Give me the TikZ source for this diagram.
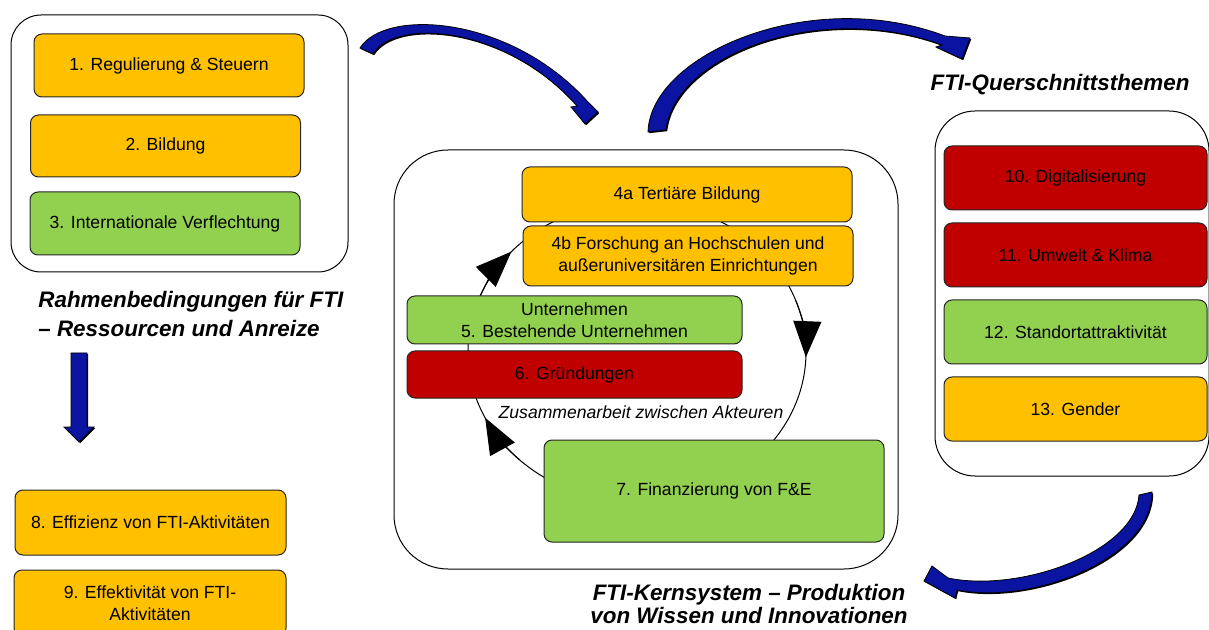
\documentclass[tikz,border=0pt]{standalone}
\usepackage{fontspec}
\setmainfont{Liberation Sans}
\usepackage{tikz}
\usetikzlibrary{arrows.meta, positioning, shadows}
\definecolor{ftiorange}{HTML}{FFC000}
\definecolor{ftigreen}{HTML}{92D050}
\definecolor{ftired}{HTML}{C00000}
\definecolor{ftiblue}{HTML}{0A14A0}
\newcommand{\ftibox}{\fontsize{8.8}{11}\selectfont}
\newcommand{\ftihead}{\fontsize{11.2}{14}\selectfont\bfseries\itshape}
\tikzstyle{frame} = [rectangle, draw=black, line width=0.5pt, fill=white]
\tikzstyle{field} = [rectangle, rounded corners=4pt, draw=black!85, line width=0.5pt, align=center, font=\ftibox, inner sep=0pt]
\tikzstyle{yellowfield} = [field, fill=ftiorange]
\tikzstyle{greenfield} = [field, fill=ftigreen]
\tikzstyle{redfield} = [field, fill=ftired]
\tikzstyle{heading} = [align=left, font=\ftihead, inner sep=0pt]
\tikzstyle{bigarrow} = [fill=ftiblue, draw=black, line width=0.4pt, drop shadow={shadow xshift=0.6pt, shadow yshift=-0.6pt, opacity=1, fill=black}]
\tikzstyle{cyclearrow} = [line width=0.5pt, -{Triangle[length=18pt, width=14pt]}]

\begin{document}
\begin{tikzpicture}[x=0.5pt, y=-0.5pt, node distance=6pt]
    \useasboundingbox (0,0) rectangle (1209,630);
    \clip (0,0) rectangle (1209,630);

    % Rahmenbedingungen
    \node (rahmenbox) [frame, rounded corners=15pt, minimum width=168.5pt, minimum height=128.5pt] at (179.5,143.5) {};
    \node (regulierung) [yellowfield, minimum width=135pt, minimum height=31.5pt] at (169,65.5) {1. Regulierung \& Steuern};
    \node (bildung) [yellowfield, minimum width=135pt, minimum height=31pt] at (165.5,146) {2. Bildung};
    \node (intl) [greenfield, minimum width=135pt, minimum height=31.5pt] at (165,223.5) {3. Internationale Verflechtung};
    \node (rahmen) [heading, anchor=west] at (38,314) {Rahmenbedingungen für FTI\\– Ressourcen und Anreize};

    \path [bigarrow] (71,353) -- (87,353) -- (87,427) -- (94,427) -- (79,442) -- (64,427) -- (71,427) -- cycle;
    \node (effizienz) [yellowfield, minimum width=135.5pt, minimum height=32.5pt] at (150.5,522.5) {8. Effizienz von FTI-Aktivitäten};
    \node (effektiv) [yellowfield, minimum width=136pt, minimum height=33pt] at (150,603) {9. Effektivität von FTI-\\Aktivitäten};

    % Kernsystem
    \node (kernbox) [frame, rounded corners=27pt, minimum width=252pt, minimum height=209.5pt] at (646,359.5) {};
    \coordinate (cyc) at (637,352);
    \draw [line width=0.5pt] (cyc) ellipse [x radius=169, y radius=150];
    \draw [cyclearrow] ([shift={(200:169 and 150)}]cyc) arc [start angle=200, end angle=222, x radius=169, y radius=150];
    \draw [cyclearrow] ([shift={(340:169 and 150)}]cyc) arc [start angle=340, end angle=362, x radius=169, y radius=150];
    \draw [cyclearrow] ([shift={(134:169 and 150)}]cyc) arc [start angle=134, end angle=154, x radius=169, y radius=150];

    \node (tertiaer) [yellowfield, minimum width=165pt, minimum height=27.5pt] at (687,194.5) {4a Tertiäre Bildung};
    \node (forschung) [yellowfield, minimum width=165pt, minimum height=30pt] at (688,256) {4b Forschung an Hochschulen und\\außeruniversitären Einrichtungen};
    \node (bestehend) [greenfield, minimum width=167.5pt, minimum height=24pt] at (574.5,320) {Unternehmen\\5. Bestehende Unternehmen};
    \node (gruendung) [redfield, minimum width=167.5pt, minimum height=23.5pt] at (574.5,374.5) {6. Gründungen};
    \node (akteure) [font=\ftibox\itshape, inner sep=0pt] at (641,412) {Zusammenarbeit zwischen Akteuren};
    \node (finanz) [greenfield, minimum width=170pt, minimum height=51pt] at (714,491) {7. Finanzierung von F\&E};
    \node (kern) [heading, align=center, font=\fontsize{11.2}{11.5}\selectfont\bfseries\itshape] at (749,603.5) {FTI-Kernsystem – Produktion\\von Wissen und Innovationen};

    % Querschnittsthemen
    \node (quer) [heading] at (1060,85) {FTI-Querschnittsthemen};
    \node (querbox) [frame, rounded corners=20pt, minimum width=137pt, minimum height=182.5pt] at (1072,293.5) {};
    \node (digital) [redfield, minimum width=131.5pt, minimum height=32pt] at (1075.5,178) {10. Digitalisierung};
    \node (umwelt) [redfield, minimum width=131.5pt, minimum height=32pt, below=6pt of digital] {11. Umwelt \& Klima};
    \node (standort) [greenfield, minimum width=131.5pt, minimum height=32pt, below=6pt of umwelt] {12. Standortattraktivität};
    \node (gender) [yellowfield, minimum width=131.5pt, minimum height=32pt, below=6pt of standort] {13. Gender};

    % blaue Pfeile
    \path [bigarrow] (360,48) .. controls (385,8) and (510,15) .. (588,102) -- (598,112) -- (585,124) -- (571,107) -- (577,106) .. controls (505,25) and (395,18) .. (373,54) -- cycle;
    \path [bigarrow] (648,132) .. controls (650,55) and (810,-15) .. (945,36) -- (970,38) -- (962,59) -- (936,47) -- (942,45) .. controls (820,0) and (675,55) .. (666,130) -- cycle;
    \path [bigarrow] (1152,492) .. controls (1152,560) and (1030,605) .. (957,590) -- (955,598) -- (924,581) -- (932,566) -- (948,578) .. controls (1020,593) and (1135,552) .. (1139,495) -- cycle;
\end{tikzpicture}
\end{document}
